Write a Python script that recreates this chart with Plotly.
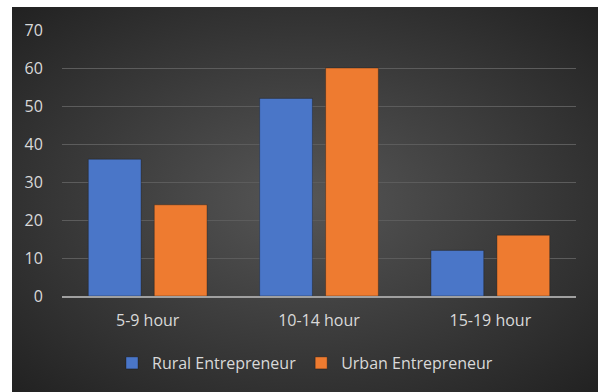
import base64
import plotly.graph_objects as go

categories = ["5-9 hour", "10-14 hour", "15-19 hour"]
rural = [36, 52, 12]
urban = [24, 60, 16]
series_names = ["Rural Entrepreneur", "Urban Entrepreneur"]
y_ticks = [0, 10, 20, 30, 40, 50, 60, 70]

W, H = 598, 392
L, R, T, B = 62, 22, 30, 96
pw, ph = W - L - R, H - T - B

svg = (
    '<svg xmlns="http://www.w3.org/2000/svg" width="600" height="400" preserveAspectRatio="none">'
    '<defs><radialGradient id="g" cx="50%" cy="50%" r="70%">'
    '<stop offset="0%" stop-color="#565656"/>'
    '<stop offset="100%" stop-color="#222222"/>'
    '</radialGradient></defs>'
    '<rect width="600" height="400" fill="url(#g)"/></svg>'
)
src = "data:image/svg+xml;base64," + base64.b64encode(svg.encode()).decode()

px0, px1, py0, py1 = 12, 598, 7, 392
ix0 = (px0 - L) / pw
ix1 = (px1 - L) / pw
iy_top = (H - B - py0) / ph
iy_bot = (H - B - py1) / ph

font = dict(family="Open Sans, sans-serif", size=16, color="#d9d9d9")

fig = go.Figure()
fig.add_trace(go.Bar(x=categories, y=rural, name=series_names[0],
                     marker=dict(color="#4a76c8", line=dict(color="rgba(20,20,20,0.35)", width=1))))
fig.add_trace(go.Bar(x=categories, y=urban, name=series_names[1],
                     marker=dict(color="#ee7b30", line=dict(color="rgba(20,20,20,0.35)", width=1))))

fig.update_layout(
    width=W, height=H,
    margin=dict(l=L, r=R, t=T, b=B, autoexpand=False),
    paper_bgcolor="white",
    plot_bgcolor="rgba(0,0,0,0)",
    barmode="group",
    bargap=0.23,
    bargroupgap=0.2,
    font=font,
    images=[dict(source=src, xref="paper", yref="paper", x=ix0, y=iy_top,
                 sizex=ix1 - ix0, sizey=iy_top - iy_bot, sizing="stretch",
                 xanchor="left", yanchor="top", layer="below")],
    legend=dict(orientation="h", x=(305 - L) / pw, xanchor="center", y=(H - B - 363) / ph,
                yanchor="middle", bgcolor="rgba(0,0,0,0)", font=font,
                itemwidth=30, traceorder="normal"),
    showlegend=True,
)
fig.update_yaxes(range=[0, 70], tickvals=y_ticks, showgrid=True,
                 gridcolor="#5c5c5c", gridwidth=1, zeroline=False,
                 showline=False, ticks="outside", ticklen=15,
                 tickcolor="rgba(0,0,0,0)", tickfont=font)
fig.update_xaxes(showline=True, linecolor="#a0a0a0", linewidth=2,
                 ticks="outside", ticklen=9, tickcolor="rgba(0,0,0,0)",
                 tickfont=font, showgrid=False)

fig.write_html("out.html")
